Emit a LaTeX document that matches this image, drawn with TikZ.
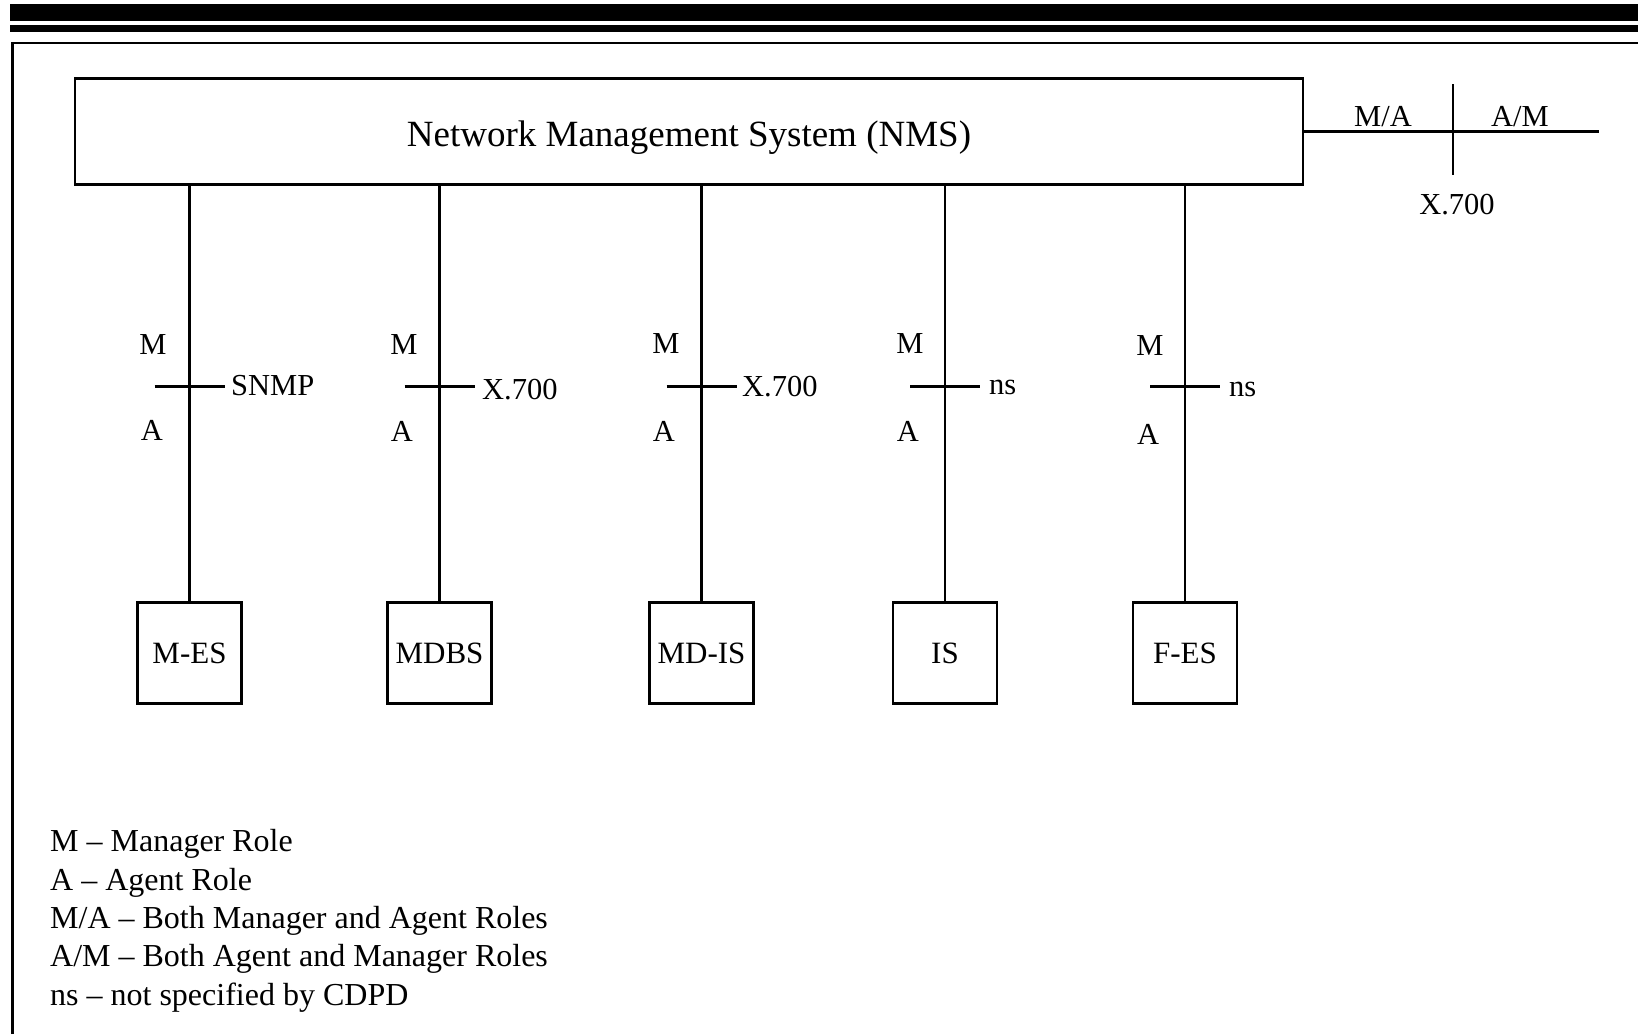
\documentclass[tikz,border=0pt]{standalone}
\usepackage{fontspec}
\setmainfont{Liberation Serif}
\begin{document}
\begin{tikzpicture}[x=1pt,y=-1pt,
  wire/.style={line width=2.5pt},
  frame/.style={line width=2.4pt,line join=miter},
  unitbox/.style={draw,line width=2.8pt,minimum width=104pt,minimum height=101pt,
    inner sep=0pt,font=\fontsize{31}{37}\selectfont},
  nmsbox/.style={draw,line width=2.8pt,minimum width=1228pt,minimum height=106pt,
    inner sep=0pt,text height=29pt,text depth=0pt,font=\fontsize{37}{44}\selectfont},
  lbl/.style={inner sep=0pt,anchor=base,font=\fontsize{30.5}{36}\selectfont},
  proto/.style={lbl,anchor=base west},
  legend/.style={inner sep=0pt,anchor=base west,font=\fontsize{32}{38}\selectfont}]
\useasboundingbox (0,0) rectangle (1638,1034);

% page header rules and frame
\fill (10,4) rectangle (1638,21);
\fill (10,25) rectangle (1638,32);
\draw[frame] (12.5,1034) -- (12.5,43) -- (1638,43);

% management system
\node[nmsbox] (nms) at (689,131.5) {Network Management System (NMS)};

% managed units
\node[unitbox] (mes)  at (189.5,653) {M-ES};
\node[unitbox] (mdbs) at (439.5,653) {MDBS};
\node[unitbox] (mdis) at (701.5,653) {MD-IS};
\node[unitbox] (is)   at (945,653)   {IS};
\node[unitbox] (fes)  at (1185,653)  {F-ES};

\coordinate (tickrow) at (0,386.5);
\foreach \b/\k in {mes/k1,mdbs/k2,mdis/k3,is/k4,fes/k5}{
  \draw[wire] (nms.south -| \b.north) -- (\b.north);
  \coordinate (\k) at (\b.north |- tickrow);
  \draw[wire] ([xshift=-35pt]\k) -- ([xshift=35pt]\k);
}

% role and protocol labels
\node[lbl] at (153,354) {M};
\node[lbl] at (152,440) {A};
\node[proto] at (231,395) {SNMP};

\node[lbl] at (404,354.5) {M};
\node[lbl] at (402,441) {A};
\node[proto] at (482,399) {X.700};

\node[lbl] at (666,353.5) {M};
\node[lbl] at (664,441) {A};
\node[proto] at (742,396.5) {X.700};

\node[lbl] at (910,353.5) {M};
\node[lbl] at (908,441) {A};
\node[proto] at (989,394) {ns};

\node[lbl] at (1150,355.5) {M};
\node[lbl] at (1148,444.5) {A};
\node[proto] at (1229,396) {ns};

% peer interface on the right
\coordinate (peerend) at (1599,131.5);
\coordinate (peertick) at (1453,131.5);
\draw[wire] (nms.east) -- (peerend);
\draw[wire] ([yshift=47.5pt]peertick) -- ([yshift=-43.5pt]peertick);
\node[lbl] at (1383,126.7) {M/A};
\node[lbl] at (1520,126.7) {A/M};
\node[lbl] at (1457,214) {X.700};

% legend
\node[legend] at (50,851.5) {M – Manager Role};
\node[legend] at (50,890)   {A – Agent Role};
\node[legend] at (50,928.5) {M/A – Both Manager and Agent Roles};
\node[legend] at (50,966.5) {A/M – Both Agent and Manager Roles};
\node[legend] at (50,1005)  {ns – not specified by CDPD};
\end{tikzpicture}
\end{document}
